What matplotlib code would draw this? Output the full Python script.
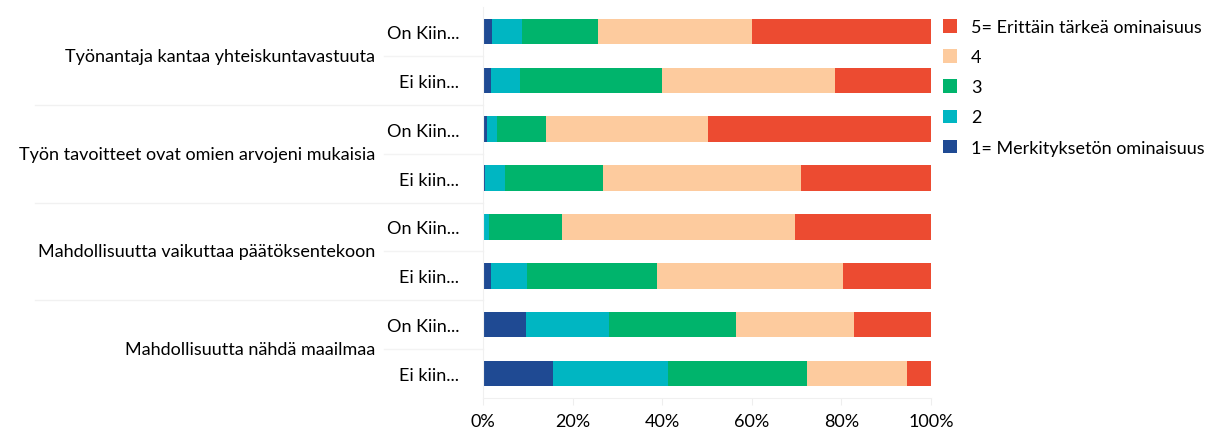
import matplotlib.pyplot as plt
import numpy as np

plt.rcParams['font.family'] = ['Lato', 'DejaVu Sans']

# kysymykset ja ryhmät
groups = ['Työnantaja kantaa yhteiskuntavastuuta',
          'Työn tavoitteet ovat omien arvojeni mukaisia',
          'Mahdollisuutta vaikuttaa päätöksentekoon',
          'Mahdollisuutta nähdä maailmaa']
sub_labels = ['On Kiin...', 'Ei kiin...']

series_names = ['1= Merkityksetön ominaisuus', '2', '3', '4',
                '5= Erittäin tärkeä ominaisuus']

# osuudet (%) riveittäin ylhäältä alas
s1 = [2.0, 1.8, 0.9, 0.4, 0.0, 1.8, 9.5, 15.6]
s2 = [6.6, 6.4, 2.2, 4.4, 1.4, 8.1, 18.7, 25.8]
s3 = [17.0, 31.8, 11.0, 22.0, 16.2, 29.0, 28.3, 31.0]
s4 = [34.4, 38.6, 36.1, 44.1, 52.1, 41.4, 26.4, 22.3]
s5 = [40.0, 21.4, 49.8, 29.1, 30.3, 19.7, 17.1, 5.3]

colors = ['#1F4A93', '#00B6C2', '#00B46C', '#FDCB9E', '#EC4B31']

data = np.array([s1, s2, s3, s4, s5])
data = data / data.sum(axis=0) * 100
y = np.arange(data.shape[1])

fig = plt.figure(figsize=(12.31, 4.39), dpi=100)
ax = fig.add_axes([483/1231, 40/439, 448/1231, 391/439])

left = np.zeros(len(y))
bars = []
for vals, name, c in zip(data, series_names, colors):
    b = ax.barh(y, vals, left=left, height=0.52, color=c, label=name)
    bars.append(b)
    left += vals

fs = 13
ax.set_xlim(0, 100)
ax.set_ylim(len(y) - 0.5, -0.5)
ax.set_xticks(np.arange(0, 101, 20))
ax.set_xticklabels([f'{v}%' for v in range(0, 101, 20)], fontsize=fs)
ax.tick_params(axis='x', length=5, color='#eeeeee', pad=6)
ax.set_yticks(y)
ax.set_yticklabels(sub_labels * len(groups), fontsize=fs)
ax.tick_params(axis='y', length=0, pad=17)
for sp in ['top', 'right']:
    ax.spines[sp].set_visible(False)
ax.spines['left'].set_color('#f0f0f0')
ax.spines['bottom'].set_color('#f0f0f0')

# ryhmien otsikot ja erotinviivat
trans = ax.get_yaxis_transform()
for i, g in enumerate(groups):
    ax.text(-0.24, 2 * i + 0.5, g, transform=trans, ha='right', va='center',
            fontsize=fs)
for i in range(len(groups)):
    ax.plot([-0.22, 0], [2 * i + 0.5] * 2, transform=trans, color='#f3f3f3',
            lw=1, clip_on=False)
for i in range(1, len(groups)):
    ax.plot([-1.0, 0], [2 * i - 0.5] * 2, transform=trans, color='#f1f1f1',
            lw=1, clip_on=False)

handles = bars[::-1]
fig.legend(handles, [h.get_label() for h in handles], loc='upper left',
           bbox_to_anchor=(936/1231, 1 - 13/439), frameon=False, fontsize=fs,
           handlelength=0.75, handleheight=0.75, handletextpad=0.8,
           labelspacing=0.78, borderaxespad=0)

fig.savefig('out.png', dpi=100)
